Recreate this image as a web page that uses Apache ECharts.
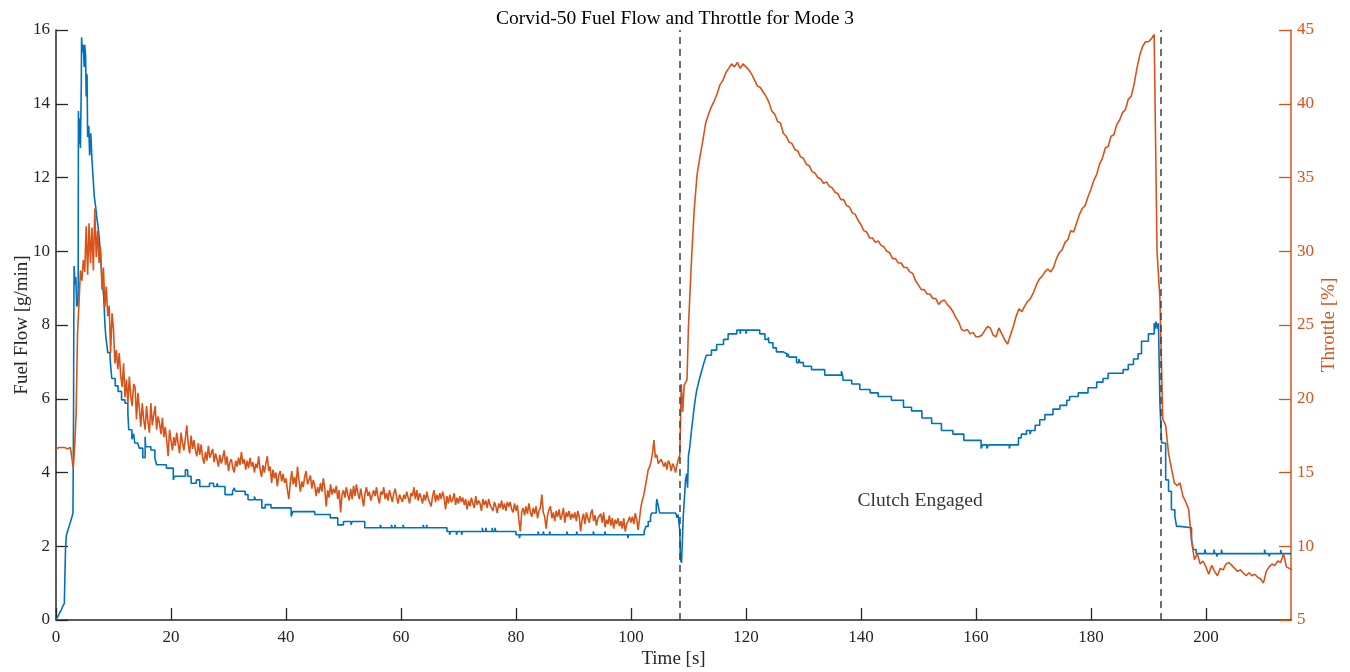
<!DOCTYPE html>
<html>
<head>
<meta charset="utf-8">
<title>Corvid-50 Fuel Flow and Throttle for Mode 3</title>
<script src="https://cdn.jsdelivr.net/npm/echarts@6/dist/echarts.min.js"></script>
<style>
  html, body { margin: 0; padding: 0; background: #fff; }
  #chart { width: 1350px; height: 672px; }
</style>
</head>
<body>
<div id="chart"></div>
<script>
// ---- Data -----------------------------------------------------------------
const chartTitle = 'Corvid-50 Fuel Flow and Throttle for Mode 3';
const xLabel = 'Time [s]';
const fuelLabel = 'Fuel Flow [g/min]';
const throttleLabel = 'Throttle [%]';

// Tick labels
const timeTicks = [0, 20, 40, 60, 80, 100, 120, 140, 160, 180, 200];
const fuelTicks = [0, 2, 4, 6, 8, 10, 12, 14, 16];
const throttleTicks = [5, 10, 15, 20, 25, 30, 35, 40, 45];
const timeMax = 214.8;

// Fuel flow, logged as quantised levels: [time s, g/min], each level held until the next entry
const fuelSteps = [
  [0,0],[0.3,0.09],[0.6,0.18],[0.9,0.27],[1.15,0.36],[1.45,0.45],[1.55,1.2],[1.65,1.9],[1.8,2.3],[2.1,2.45],
  [2.4,2.6],[2.7,2.75],[2.95,2.9],[3.05,5.5],[3.1,8.2],[3.15,9.6],[3.3,9.1],[3.45,9.3],[3.6,8.5],[3.85,8.6],
  [3.9,13.8],[4.0,12.9],[4.1,13.6],[4.25,12.8],[4.4,14.5],[4.45,15.8],[4.6,15.4],[4.75,15.6],[4.9,15.0],[5.0,15.6],
  [5.15,15.3],[5.25,14.2],[5.4,14.8],[5.5,13.1],[5.7,13.4],[5.85,12.6],[6.05,13.2],[6.25,12.5],[6.45,12.0],[6.65,11.5],
  [6.9,11.2],[7.1,10.9],[7.3,10.7],[7.5,10.4],[7.7,10.0],[7.9,9.5],[8.1,9.1],[8.3,8.77],[8.5,8.05],[8.65,7.7],
  [8.9,7.4],[9.0,7.25],[9.4,7.1],[9.7,6.55],[10.3,6.35],[10.8,6.2],[11.4,5.97],[12.0,5.88],[12.5,5.61],[12.65,5.16],
  [13.2,4.9],[13.5,5.05],[13.7,4.8],[14.2,4.85],[14.5,4.66],[15.1,4.4],[15.5,4.97],[15.6,4.7],[16.5,4.61],[17.2,4.39],
  [17.5,4.21],[19.2,4.12],[20.4,3.8],[20.6,3.9],[22.5,4.07],[22.9,3.9],[23.5,3.71],[24.4,3.8],[25.0,3.62],[26.7,3.71],
  [27.4,3.62],[28.0,3.71],[28.2,3.62],[29.4,3.4],[30.7,3.49],[31.0,3.58],[31.2,3.49],[32.9,3.4],[33.4,3.26],[34.5,3.35],
  [34.7,3.26],[35.8,3.04],[36.4,3.13],[37.4,3.04],[40.9,2.81],[41.2,2.94],[45.0,2.86],[47.7,2.77],[49.0,2.58],[50.0,2.67],
  [51.3,2.58],[51.5,2.67],[53.7,2.5],[56.4,2.58],[56.6,2.5],[58.35,2.58],[58.5,2.5],[58.95,2.58],[59.1,2.5],[60.35,2.58],
  [60.5,2.5],[63.85,2.58],[64.0,2.5],[64.45,2.58],[64.6,2.5],[68.0,2.4],[68.45,2.31],[68.6,2.4],[69.65,2.31],[69.8,2.4],
  [70.55,2.31],[70.7,2.4],[74.15,2.5],[74.3,2.4],[74.75,2.5],[74.9,2.4],[75.85,2.5],[76.0,2.4],[76.35,2.5],[76.5,2.4],
  [80.0,2.31],[80.6,2.22],[80.75,2.31],[83.85,2.4],[84.0,2.31],[84.75,2.4],[84.9,2.31],[85.85,2.4],[86.0,2.31],[88.85,2.4],
  [89.0,2.31],[90.55,2.4],[90.7,2.31],[93.45,2.4],[93.6,2.31],[95.45,2.4],[95.6,2.31],[99.45,2.22],[99.6,2.31],[102.3,2.4],
  [102.6,2.54],[103.0,2.67],[103.4,2.81],[103.6,2.9],[104.4,3.1],[104.5,3.28],[104.8,3.05],[105.0,2.9],[107.8,2.86],[108.0,2.77],
  [108.2,2.86],[108.5,2.4],[108.6,1.64],[108.8,1.55],[108.95,2.18],[109.1,2.81],[109.3,3.3],[109.5,3.8],[109.7,3.97],[109.85,3.59],
  [110.0,4.46],[110.2,4.65],[110.4,4.95],[110.6,5.24],[110.8,5.5],[111.0,5.77],[111.2,6.0],[111.4,6.2],[111.7,6.4],[112.0,6.59],
  [112.3,6.75],[112.6,6.93],[112.9,7.08],[113.1,7.18],[114.0,7.32],[114.9,7.47],[116.1,7.61],[116.9,7.76],[118.4,7.86],[119.0,7.76],
  [119.1,7.86],[120.0,7.76],[120.1,7.86],[122.4,7.76],[123.3,7.61],[123.9,7.67],[124.0,7.52],[124.7,7.38],[125.3,7.27],[126.5,7.22],
  [127.1,7.13],[127.3,7.22],[127.5,7.13],[128.8,6.98],[129.2,7.08],[129.4,6.98],[130.0,6.88],[131.4,6.79],[133.7,6.64],[136.6,6.75],
  [136.8,6.64],[136.9,6.5],[138.4,6.4],[139.8,6.25],[141.6,6.16],[143.0,6.06],[145.3,5.96],[147.4,5.77],[148.8,5.67],[150.6,5.48],
  [152.3,5.33],[154.0,5.14],[156.0,5.04],[157.9,4.87],[160.9,4.65],[161.2,4.75],[161.9,4.65],[162.2,4.75],[165.8,4.65],[165.95,4.75],
  [167.4,4.94],[167.9,5.04],[168.8,5.14],[169.4,5.04],[169.6,5.14],[170.3,5.28],[171.1,5.43],[172.0,5.57],[173.4,5.72],[174.6,5.82],
  [175.8,5.96],[176.3,6.06],[177.8,6.16],[179.5,6.3],[181.0,6.45],[182.1,6.55],[183.0,6.69],[185.6,6.79],[186.5,6.93],[187.4,7.08],
  [188.2,7.22],[188.8,7.56],[190.0,7.76],[191.0,8.05],[191.2,7.9],[191.3,8.09],[191.6,7.9],[191.75,8.05],[192.0,5.88],[192.3,4.8],
  [193.0,3.8],[193.5,3.49],[194.0,2.99],[194.6,2.81],[194.9,2.54],[195.5,2.5],[197.5,2.18],[197.8,1.91],[198.3,1.8],[199.8,1.91],
  [200.0,1.8],[201.4,1.91],[201.55,1.8],[201.9,1.72],[202.1,1.8],[202.7,1.91],[202.85,1.8],[210.2,1.91],[210.35,1.8],[211.0,1.72],
  [211.15,1.8],[213.0,1.9],[213.15,1.8],[214.8,1.8]
];

// Throttle [%] up to clutch-in: one sample every 0.25 s from t = 0
const throttleEarlyStart = 0;
const throttleEarlyStep = 0.25;
const throttleEarly = [
  16.6,16.6,16.7,16.7,16.7,16.6,16.7,16.7,16.6,16.7,16.7,16.6,15.3,16.8,19.0,24.5,26.5,28.7,28.0,29.4,
  28.6,31.7,28.4,31.9,29.2,31.6,28.7,32.9,29.6,31.4,29.2,30.3,27.4,28.9,26.2,27.6,25.6,26.3,23.1,25.8,
  24.7,22.4,23.3,22.0,23.1,21.6,20.8,22.4,20.1,21.3,19.7,21.5,20.2,19.5,21.0,20.8,18.6,20.4,19.3,18.1,
  19.7,18.6,17.9,19.5,18.4,17.7,19.7,18.2,18.9,19.5,17.9,18.8,18.35,17.6,18.7,17.4,18.1,17.2,16.1,17.9,
  17.2,16.5,17.4,16.8,17.7,16.9,16.3,17.7,17.0,16.5,17.3,18.2,16.9,16.3,17.5,16.6,17.2,16.5,16.1,17.0,
  16.2,16.9,16.0,15.6,16.4,15.8,16.8,16.0,15.9,16.6,15.7,16.3,15.9,15.4,16.2,15.6,16.0,16.5,15.5,16.1,
  15.1,15.7,15.9,15.3,15.0,15.8,15.4,16.0,15.5,16.4,15.6,15.9,15.2,15.8,15.3,16.0,15.4,15.7,15.0,15.6,
  15.3,16.1,15.2,14.7,15.5,15.0,15.6,16.1,15.1,15.4,14.3,15.2,14.6,15.0,14.05,14.8,15.1,14.4,14.9,14.3,
  14.6,13.8,13.2,14.3,15.1,14.2,14.7,14.0,15.4,14.5,13.7,14.4,14.0,14.7,15.1,14.2,14.3,14.8,13.9,14.5,
  14.1,13.4,14.0,13.6,14.3,13.7,14.6,13.9,12.7,13.8,13.3,14.2,13.5,13.9,13.6,14.1,13.2,13.8,12.3,13.5,
  13.8,13.3,14.0,13.5,13.1,13.9,13.2,14.1,13.4,14.2,13.6,13.2,13.9,13.3,12.7,13.6,14.0,13.4,13.7,13.1,
  13.2,13.8,13.4,14.0,13.3,12.9,13.7,13.5,14.0,13.2,13.6,13.1,13.8,13.4,13.0,13.6,13.9,13.3,12.9,13.5,
  13.6,13.0,13.5,13.2,13.7,13.3,12.9,13.6,13.4,14.0,13.2,13.8,13.1,13.6,13.3,12.9,13.5,13.1,13.7,13.2,
  13.3,12.7,13.4,13.8,13.0,13.5,13.1,13.6,13.2,13.7,13.3,12.5,13.4,12.9,13.5,13.0,13.15,13.6,12.8,13.3,
  12.9,13.4,13.0,13.3,12.8,13.2,12.5,13.1,12.7,13.3,12.9,12.6,13.4,12.8,13.1,12.9,12.4,13.2,12.8,13.1,
  12.6,13.2,12.8,12.9,12.4,13.0,12.7,12.25,12.9,12.6,13.1,12.5,12.9,12.4,13.0,12.7,13.0,12.5,12.3,12.9,
  12.4,12.8,11.8,11.0,12.3,12.6,12.1,12.7,12.2,12.9,12.3,12.0,12.6,12.2,12.7,11.9,12.4,12.6,13.5,12.3,
  12.0,11.2,12.1,12.5,12.7,11.9,12.3,11.7,12.4,12.0,12.5,11.8,12.1,12.6,11.6,12.3,12.0,12.4,11.8,12.2,
  11.9,12.3,11.7,12.4,12.0,11.0,11.8,12.2,11.5,12.3,11.9,11.6,12.2,12.5,11.7,12.1,11.4,11.9,11.8,12.2,
  11.6,12.3,11.3,11.8,11.5,12.1,11.4,11.9,11.2,11.8,11.5,11.9,11.35,11.7,11.2,11.9,11.0,11.5,11.7,12.0,
  11.6,12.0,11.5,12.25,11.8,11.1,11.9,12.7,13.15,13.5,14.05,14.6,15.2,15.4,15.75,16.3,17.2,16.0,16.2,15.6,
  15.5,15.9,16.0,15.4,15.7,15.2,15.8,15.6,15.1,15.6,15.4,15.0,15.5,15.9,16.2,21.0,19.1,20.9,20.8,21.3
];

// Throttle [%] after clutch-in: one sample every 0.5 s from t = 110
const throttleLateStart = 110;
const throttleLateStep = 0.5;
const throttleLate = [
  24.9,29.2,32.8,35.2,36.4,37.5,38.7,39.3,39.8,40.2,
  40.7,41.3,41.6,42.1,42.4,42.7,42.5,42.8,42.4,42.7,
  42.5,42.3,42.0,41.6,41.2,41.1,40.8,40.5,40.1,39.5,
  39.3,38.8,38.7,38.0,37.8,37.4,37.3,36.9,36.8,36.4,
  36.3,35.9,35.8,35.4,35.3,35.0,34.9,34.6,34.7,34.4,
  34.3,34.0,33.9,33.5,33.5,33.1,33.0,32.6,32.5,32.1,
  31.8,31.4,31.3,30.9,30.9,30.6,30.7,30.4,30.3,30.0,
  29.9,29.5,29.5,29.2,29.2,28.9,28.9,28.6,28.5,28.0,
  27.7,27.4,27.4,27.1,27.1,26.8,26.8,26.4,26.6,26.7,
  26.4,26.2,25.9,25.5,25.2,24.7,24.6,24.7,24.4,24.5,
  24.2,24.2,24.3,24.6,24.9,24.8,24.3,24.2,24.8,24.4,
  24.0,23.7,24.3,24.9,25.6,26.1,25.9,26.3,26.6,26.8,
  27.2,27.7,28.1,28.3,28.6,28.8,28.6,28.9,29.5,29.9,
  30.1,30.6,30.8,31.4,31.3,31.9,32.5,32.9,33.1,33.7,
  34.2,34.8,35.2,35.9,36.3,37.0,37.1,37.8,37.9,38.6,
  38.9,39.4,39.6,40.3,40.5,41.3,42.4,43.3,43.9,44.2,
  44.2,44.4,44.7,30.0,26.8,18.6,18.2,16.3,15.3,14.3,
  14.1,14.3,13.4,13.0,12.5,10.4,9.1,9.5,8.8,9.0,
  8.6,8.1,8.7,8.3,8.0,8.5,8.4,8.8,8.9,8.7,
  8.5,8.3,8.4,8.2,8.0,8.2,8.0,8.1,7.9,7.8,
  7.5,8.3,8.6,8.8,8.7,9.0,8.9,9.5,8.6,8.5,
  8.4
];

// Clutch events (s) and the annotation between them
const clutchTimes = [108.5, 192.2];
const annotationText = 'Clutch Engaged';
const annotationAt = [150.3, 3.23];

// ---- Chart ----------------------------------------------------------------
const FONT = '"Liberation Serif", "Times New Roman", serif';
const BLUE = '#0072BD';
const ORANGE = '#D95319';
const INK = '#262626';

const throttleData = throttleEarly
  .map((v, i) => [throttleEarlyStart + i * throttleEarlyStep, v])
  .concat(throttleLate.map((v, i) => [throttleLateStart + i * throttleLateStep, v]));

function axisStyle(color, ticks, margin) {
  return {
    axisLine: { show: true, onZero: false, lineStyle: { color: color, width: 1.5 } },
    axisTick: { show: true, inside: true, length: 12, customValues: ticks, lineStyle: { color: color, width: 1.3 } },
    axisLabel: { color: color, fontFamily: FONT, fontSize: 17, margin: margin, customValues: ticks },
    splitLine: { show: false },
    nameMoveOverlap: false,
    nameTextStyle: { color: color, fontFamily: FONT, fontSize: 19 }
  };
}

const chart = echarts.init(document.getElementById('chart'), null, { renderer: 'canvas' });
chart.setOption({
  animation: false,
  backgroundColor: '#ffffff',
  title: {
    text: chartTitle,
    left: 'center',
    top: 4,
    textStyle: { fontFamily: FONT, fontSize: 19.5, fontWeight: 'normal', color: '#000' }
  },
  grid: { left: 56, right: 59, top: 30, bottom: 52, outerBoundsMode: 'none' },
  xAxis: Object.assign({
    type: 'value',
    min: timeTicks[0], max: timeMax, interval: 20,
    name: xLabel, nameLocation: 'middle', nameGap: 30
  }, axisStyle(INK, timeTicks, 9)),
  yAxis: [
    Object.assign({
      type: 'value', position: 'left',
      min: fuelTicks[0], max: fuelTicks[fuelTicks.length - 1], interval: 2,
      name: fuelLabel, nameLocation: 'middle', nameGap: 24
    }, axisStyle(INK, fuelTicks, 6)),
    Object.assign({
      type: 'value', position: 'right',
      min: throttleTicks[0], max: throttleTicks[throttleTicks.length - 1], interval: 5,
      name: throttleLabel, nameLocation: 'middle', nameGap: 29
    }, axisStyle(ORANGE, throttleTicks, 6))
  ],
  series: [
    {
      name: fuelLabel,
      type: 'line',
      yAxisIndex: 0,
      step: 'end',
      data: fuelSteps,
      showSymbol: false,
      lineStyle: { color: BLUE, width: 1.6 },
      itemStyle: { color: BLUE },
      z: 2
    },
    {
      name: throttleLabel,
      type: 'line',
      yAxisIndex: 1,
      data: throttleData,
      showSymbol: false,
      lineStyle: { color: ORANGE, width: 1.6 },
      itemStyle: { color: ORANGE },
      z: 3,
      markLine: {
        silent: true,
        symbol: ['none', 'none'],
        label: { show: false },
        lineStyle: { color: '#404040', type: [7, 5], width: 1.5 },
        data: clutchTimes.map(t => ({ xAxis: t })),
        z: 5
      }
    },
    {
      type: 'scatter',
      yAxisIndex: 0,
      data: [annotationAt],
      symbolSize: 1,
      itemStyle: { color: 'rgba(0,0,0,0)' },
      silent: true,
      label: {
        show: true,
        position: 'inside',
        formatter: annotationText,
        fontFamily: FONT,
        fontSize: 19.5,
        color: '#000'
      },
      z: 6
    }
  ]
});
</script>
</body>
</html>
